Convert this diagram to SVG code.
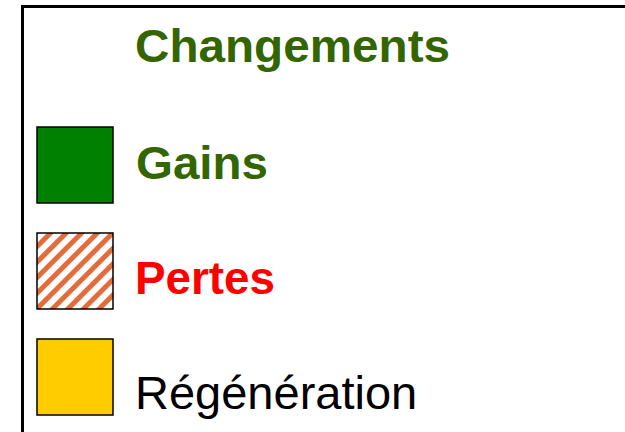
<svg xmlns="http://www.w3.org/2000/svg" width="625" height="432" viewBox="0 0 625 432">
<style>
.bold{font-family:"Liberation Sans",Arial,sans-serif;font-weight:bold;font-size:47px}
.reg{font-family:"Liberation Sans",Arial,sans-serif;font-size:47px;fill:#000}
.green{fill:#336600}
.red{fill:#FF0000}
.box{stroke:#000;stroke-width:1.5}
</style>
<defs>
<pattern id="hatch" width="11" height="11" patternUnits="userSpaceOnUse" patternTransform="rotate(45)">
<rect width="11" height="11" fill="#fff"/>
<rect width="5" height="11" fill="#E36C3A"/>
</pattern>
</defs>
<rect width="625" height="432" fill="#fff"/>
<path d="M22.5,432 V6.5 H625" fill="none" stroke="#000" stroke-width="3"/>
<g id="title"><text class="bold green" x="135" y="62" textLength="315" lengthAdjust="spacingAndGlyphs">Changements</text></g>
<g id="gains"><rect class="box" x="37" y="127" width="76" height="76" fill="#008000"/><text class="bold green" x="136" y="179" textLength="132" lengthAdjust="spacingAndGlyphs">Gains</text></g>
<g id="pertes"><rect class="box" x="37" y="233" width="76" height="76" fill="url(#hatch)"/><text class="bold red" x="135" y="294" textLength="140" lengthAdjust="spacingAndGlyphs">Pertes</text></g>
<g id="regeneration"><rect class="box" x="37" y="339" width="76" height="76" fill="#FFCC00"/><text class="reg" x="135" y="409">Régénération</text></g>
<g id="connectors"/>
</svg>
